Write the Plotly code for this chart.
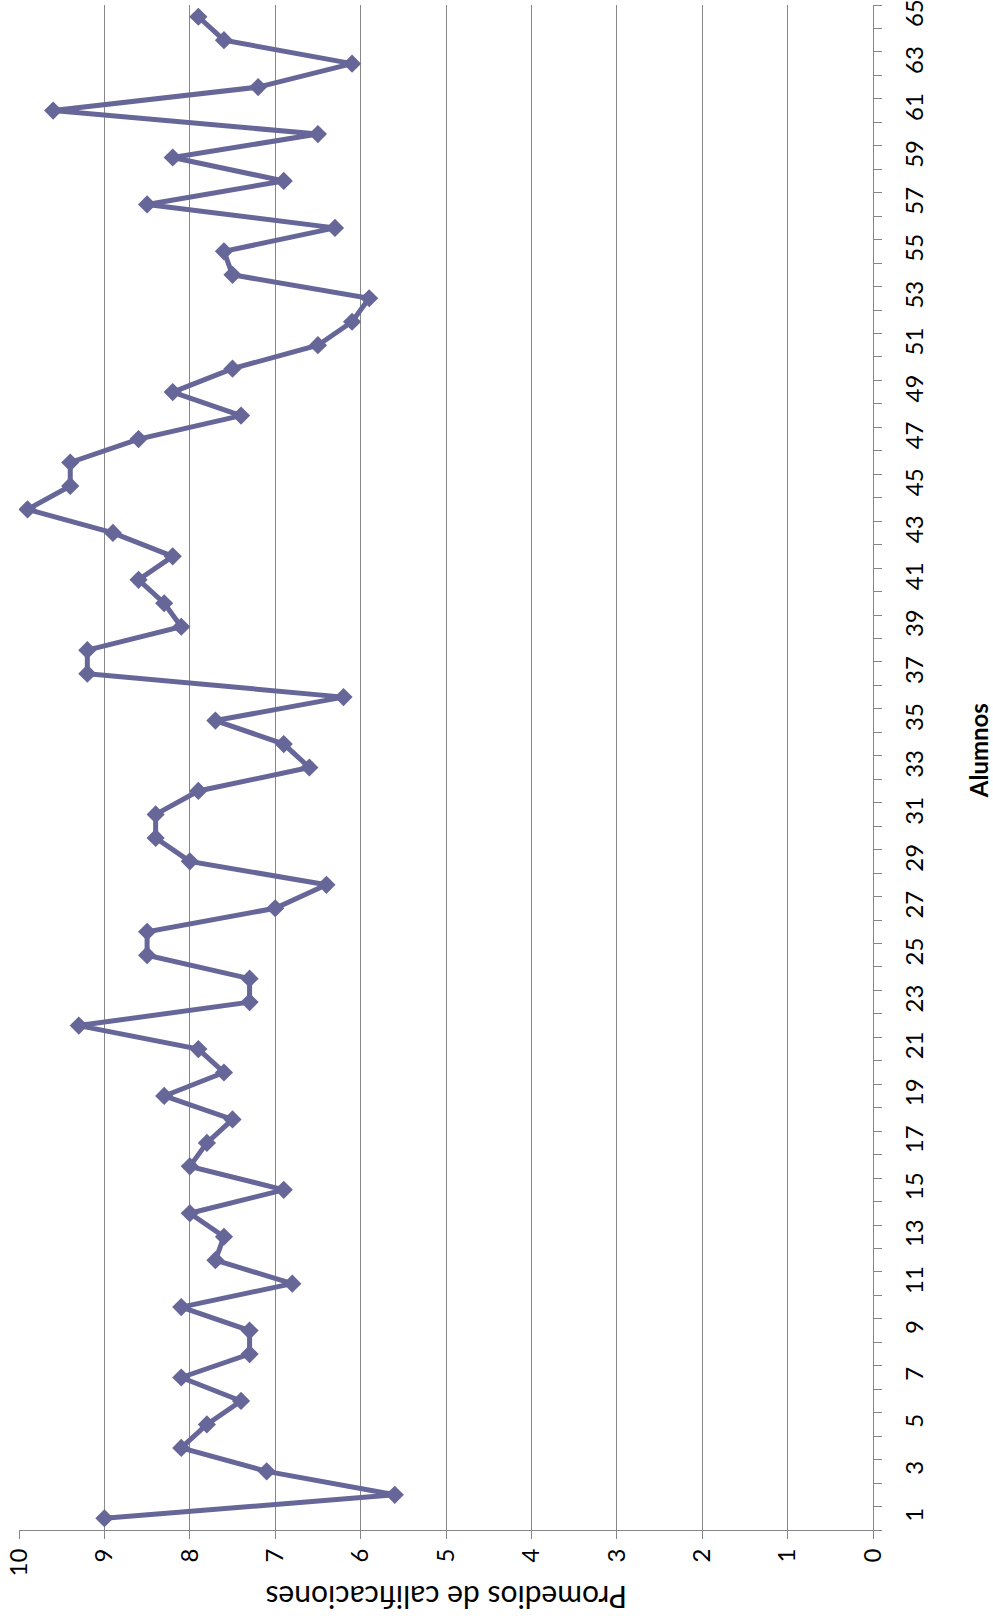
import plotly.graph_objects as go

# Promedio de calificaciones por alumno
alumnos = list(range(1, 66))
promedios = [
    9.0, 5.6, 7.1, 8.1, 7.8, 7.4, 8.1, 7.3, 7.3, 8.1,
    6.8, 7.7, 7.6, 8.0, 6.9, 8.0, 7.8, 7.5, 8.3, 7.6,
    7.9, 9.3, 7.3, 7.3, 8.5, 8.5, 7.0, 6.4, 8.0, 8.4,
    8.4, 7.9, 6.6, 6.9, 7.7, 6.2, 9.2, 9.2, 8.1, 8.3,
    8.6, 8.2, 8.9, 9.9, 9.4, 9.4, 8.6, 7.4, 8.2, 7.5,
    6.5, 6.1, 5.9, 7.5, 7.6, 6.3, 8.5, 6.9, 8.2, 6.5,
    9.6, 7.2, 6.1, 7.6, 7.9,
]
etiquetas_alumnos = [str(a) for a in alumnos if a % 2 == 1]
valores_eje = list(range(0, 11))

COLOR = "#666699"
GRIS = "#878787"
FUENTE = "Lato"

fig = go.Figure()
fig.add_trace(go.Scatter(
    x=promedios,
    y=alumnos,
    mode="lines+markers",
    line=dict(color=COLOR, width=5),
    marker=dict(symbol="diamond", size=14, color=COLOR),
    showlegend=False,
))

fig.update_layout(
    width=993,
    height=1621,
    margin=dict(l=19, r=120, t=5, b=91),
    paper_bgcolor="white",
    plot_bgcolor="white",
    font=dict(family=FUENTE, size=24, color="black"),
    xaxis=dict(
        range=[10, 0],
        tickvals=valores_eje,
        ticktext=[str(v) for v in valores_eje],
        tickangle=-90,
        ticks="outside",
        ticklen=8,
        tickcolor=GRIS,
        showgrid=True,
        gridcolor=GRIS,
        gridwidth=1,
        showline=True,
        linecolor=GRIS,
        linewidth=1,
        zeroline=False,
        automargin=False,
        ticklabeloverflow="allow",
        tickfont=dict(family=FUENTE, size=24),
    ),
    yaxis=dict(
        range=[0.5, 65.5],
        side="right",
        tickvals=[a for a in alumnos if a % 2 == 1],
        ticktext=etiquetas_alumnos,
        tickangle=-90,
        ticks="outside",
        ticklen=8,
        tickcolor="rgba(0,0,0,0)",
        ticklabelstandoff=12,
        ticklabeloverflow="allow",
        automargin=False,
        showgrid=False,
        showline=True,
        linecolor=GRIS,
        linewidth=1,
        zeroline=False,
        tickfont=dict(family=FUENTE, size=24),
        minor=dict(
            tickmode="linear",
            tick0=0.5,
            dtick=1,
            ticks="outside",
            ticklen=8,
            tickcolor=GRIS,
            showgrid=False,
        ),
    ),
    annotations=[
        dict(
            text="Promedios de calificaciones",
            xref="paper", yref="paper",
            x=0.5, y=-0.0446,
            showarrow=False,
            textangle=180,
            font=dict(family=FUENTE, size=30, color="black"),
            xanchor="center", yanchor="middle",
        ),
        dict(
            text="<b>Alumnos</b>",
            xref="paper", yref="paper",
            x=1.123, y=0.5107,
            showarrow=False,
            textangle=-90,
            font=dict(family=FUENTE, size=24, color="black"),
            xanchor="center", yanchor="middle",
        ),
    ],
)

fig.write_html("out.html")
